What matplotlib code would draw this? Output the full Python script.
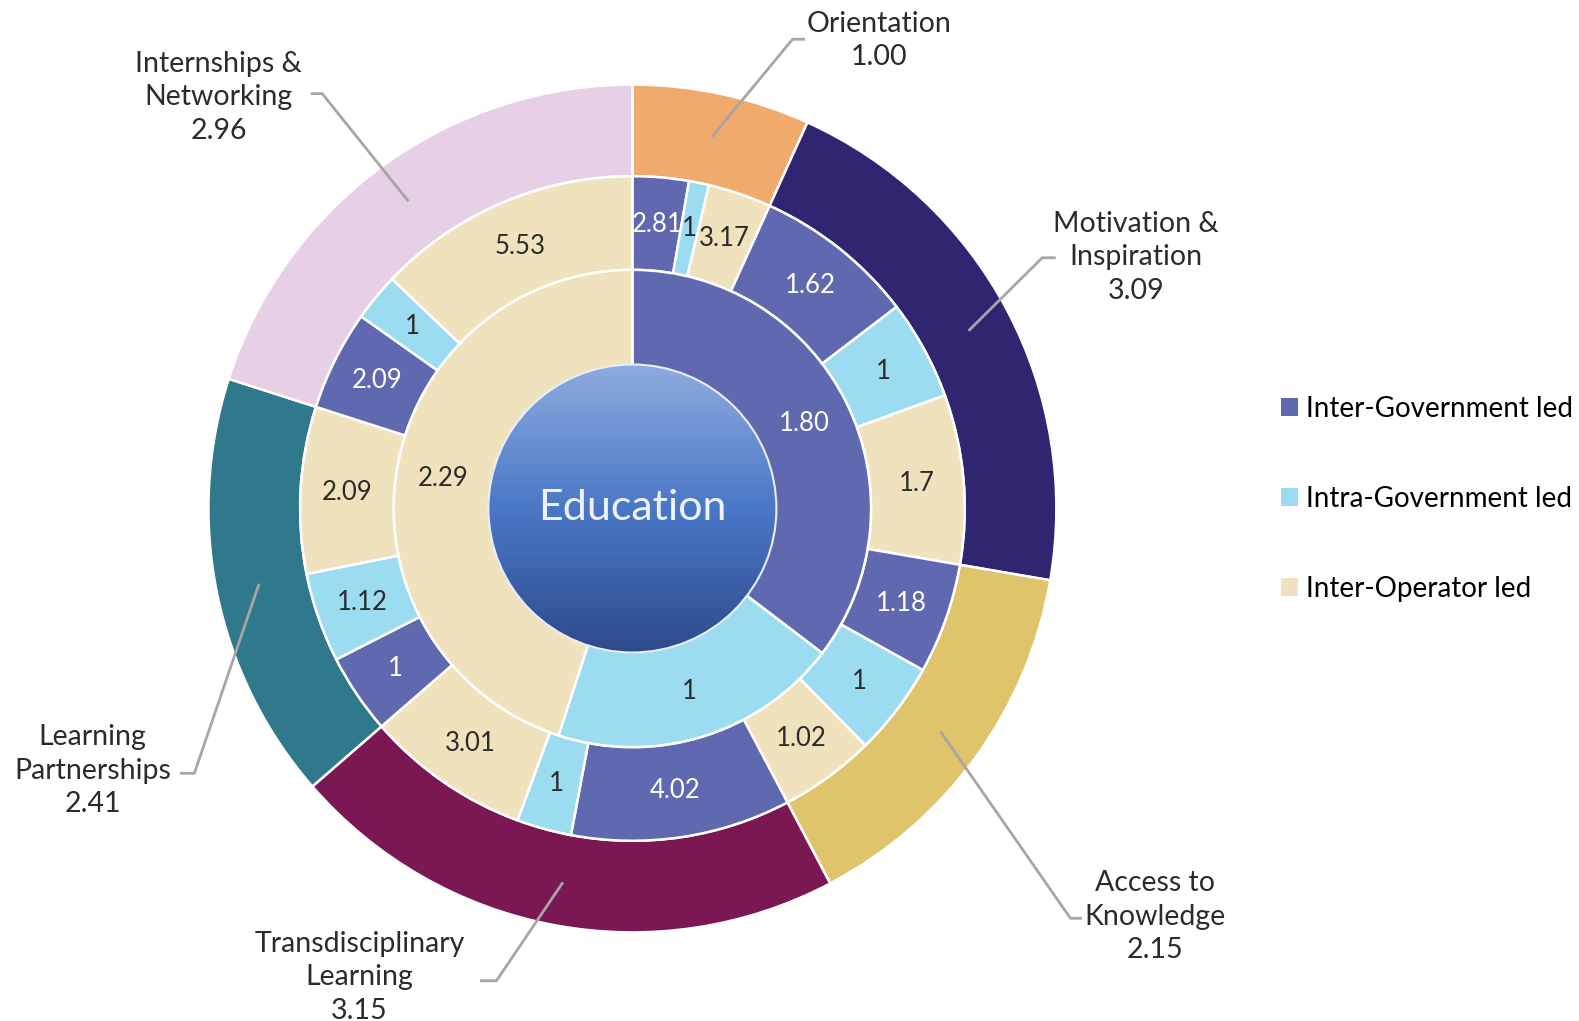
import numpy as np
import matplotlib.pyplot as plt
from matplotlib.patches import Circle, Patch

plt.rcParams['font.family'] = ['Lato', 'DejaVu Sans']

# inner ring: who leads the initiative
lead_types = ["Inter-Government led", "Intra-Government led", "Inter-Operator led"]
lead_totals = [1.80, 1, 2.29]
lead_labels = ["1.80", "1", "2.29"]

# outer ring: education categories
categories = ["Orientation", "Motivation &\nInspiration", "Access to\nKnowledge",
              "Transdisciplinary\nLearning", "Learning\nPartnerships", "Internships &\nNetworking"]
category_scores = [1.00, 3.09, 2.15, 3.15, 2.41, 2.96]

# middle ring: lead type split inside each category (Inter-Gov, Intra-Gov, Inter-Op)
breakdown = [
    [2.81, 1, 3.17],
    [1.62, 1, 1.7],
    [1.18, 1, 1.02],
    [4.02, 1, 3.01],
    [1, 1.12, 2.09],
    [2.09, 1, 5.53],
]

lead_colors = ["#6068b0", "#9cdcf1", "#f0e2bc"]
cat_colors = ["#f0aa6c", "#2f2570", "#dfc46c", "#7b1753", "#30788b", "#e7cfe6"]
text_colors = ["white", "#2b2b2b", "#2b2b2b"]

# layout, in pixels of a 1568x1014 view: label centre, leader elbow, leader end
W, H = 1568, 1014
R = 421
label_pos = [(873, 40.5), (1128, 255.5), (1147, 910.5), (357, 970.5), (92, 765.5), (217, 96.5)]
elbow_pos = [(787, 39), (1035, 256), (1063, 912), (493, 974), (193, 768), (320, 93)]
end_pos = [(798, 39), (1047, 256), (1073, 912), (478, 974), (180, 768), (310, 93)]


def px(x, y):
    return (x - 628) / R, (505 - y) / R


fig = plt.figure(figsize=(15.79, 10.21), dpi=100)
ax = fig.add_axes([0, 0, 1, 1])

r_center, r_inner, r_mid, r_outer = 143 / R, 237 / R, 330 / R, 1.0
edge = dict(edgecolor="white", linewidth=1.8)

outer, _ = ax.pie(category_scores, radius=r_outer, startangle=90, counterclock=False,
                  colors=cat_colors, wedgeprops=dict(width=r_outer - r_mid, **edge))

mid_sizes = [v / sum(g) * s for g, s in zip(breakdown, category_scores) for v in g]
mid, _ = ax.pie(mid_sizes, radius=r_mid, startangle=90, counterclock=False,
                colors=lead_colors * len(categories), wedgeprops=dict(width=r_mid - r_inner, **edge))

inner, _ = ax.pie(lead_totals, radius=r_inner, startangle=90, counterclock=False,
                  colors=lead_colors, wedgeprops=edge)


def mid_point(w, r):
    th = np.deg2rad((w.theta1 + w.theta2) / 2)
    return r * np.cos(th), r * np.sin(th)


# values on the middle ring
mid_vals = [v for g in breakdown for v in g]
for i, (w, v) in enumerate(zip(mid, mid_vals)):
    x, y = mid_point(w, (r_inner + r_mid) / 2)
    ax.text(x, y, f"{v:g}", ha="center", va="center", fontsize=18.5, color=text_colors[i % 3])

# values on the inner ring
for i, (w, s) in enumerate(zip(inner, lead_labels)):
    x, y = mid_point(w, 190 / R)
    ax.text(x, y, s, ha="center", va="center", fontsize=18.5, color=text_colors[i])

# gradient centre circle
top = np.array([0.56, 0.67, 0.87])
mid_c = np.array([0.29, 0.47, 0.78])
bot = np.array([0.18, 0.29, 0.55])
rows = []
for t in np.linspace(0, 1, 256):
    if t < 0.5:
        rows.append(top + (mid_c - top) * t / 0.5)
    else:
        rows.append(mid_c + (bot - mid_c) * (t - 0.5) / 0.5)
img = np.array(rows)[:, None, :]
im = ax.imshow(img, extent=[-r_center, r_center, -r_center, r_center], aspect="auto", zorder=3)
im.set_clip_path(Circle((0, 0), r_center, transform=ax.transData))
ax.add_patch(Circle((0, 0), r_center, facecolor="none", edgecolor="#e8eef8", linewidth=1.5, zorder=4))
ax.text(0, 0, "Education", ha="center", va="center", fontsize=31, color="#eef2fa", zorder=5)

# outer labels with leader lines
for w, name, score, lp, ep, en in zip(outer, categories, category_scores, label_pos, elbow_pos, end_pos):
    x0, y0 = mid_point(w, 0.9)
    x1, y1 = px(*ep)
    x2, y2 = px(*en)
    ax.plot([x0, x1, x2], [y0, y1, y2], color="#a6a6a6", linewidth=2, zorder=6)
    tx, ty = px(*lp)
    ax.text(tx, ty, f"{name}\n{score:.2f}", ha="center", va="center", multialignment="center",
            fontsize=20.5, color="#2b2b2b", linespacing=1.35)

handles = [Patch(facecolor=c, label=l) for c, l in zip(lead_colors, lead_types)]
ax.legend(handles=handles, loc="center left", bbox_to_anchor=(1272 / W, 1 - 495.5 / H),
          bbox_transform=fig.transFigure, frameon=False, fontsize=20, handlelength=0.62,
          handleheight=0.62, handletextpad=0.3, labelspacing=2.3, borderpad=0, borderaxespad=0)

x_lo, y_hi = px(0, 0)
x_hi, y_lo = px(W, H)
ax.set_xlim(x_lo, x_hi)
ax.set_ylim(y_lo, y_hi)
ax.axis("off")

fig.savefig("out.png", dpi=100)
